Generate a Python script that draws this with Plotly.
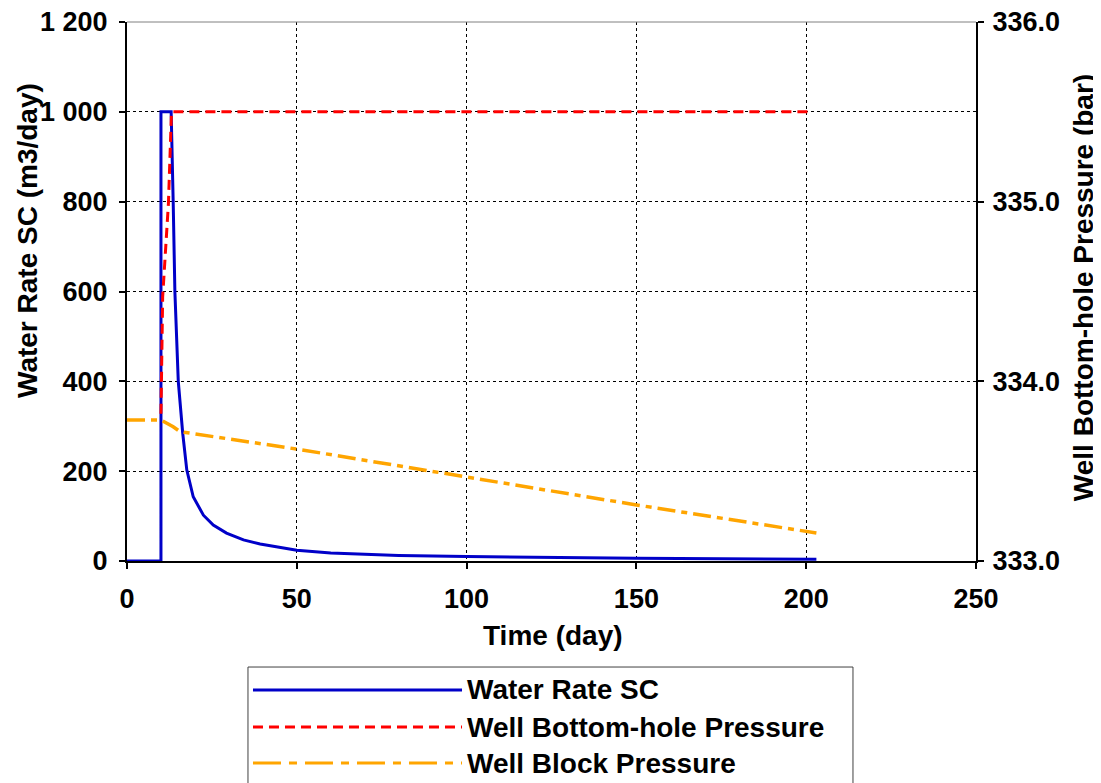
import plotly.graph_objects as go

# ---- data ----
water_time = [0, 10, 10, 13, 13.6, 14.1, 15.1, 16.4, 17.6, 19.5, 22.5, 25.4, 29.3, 34.3, 39.2, 50, 60, 69.5, 80, 100, 120, 150, 175, 203]
water_rate = [0, 0, 1000, 1000, 800, 600, 400, 285, 203, 143, 102, 80, 62, 47, 38, 24, 18, 15, 12.5, 10, 8, 6, 5, 4]

bhp_time = [10, 10.5, 12.2, 12.6, 13.1, 202]
bhp = [333.82, 334.47, 334.99, 335.29, 335.5, 335.5]

block_time = [0, 10, 13.6, 15.6, 50, 100, 150, 203]
block_p = [333.785, 333.785, 333.747, 333.72, 333.623, 333.467, 333.312, 333.156]

series_names = ["Water Rate SC", "Well Bottom-hole Pressure", "Well Block Pressure"]
x_title = "Time (day)"
y_title = "Water Rate SC (m3/day)"
y2_title = "Well Bottom-hole Pressure (bar)"

FONT = "Liberation Sans, Arial, sans-serif"
BLUE = "#0000C8"
RED = "#FF0000"
ORANGE = "#FFA500"
DASH_RED = "10px,6px"
DASH_OR = "18px,6px,6px,6px"

fig = go.Figure()
fig.add_trace(go.Scatter(x=water_time, y=water_rate, mode="lines", name=series_names[0],
                         line=dict(color=BLUE, width=3), showlegend=False))
fig.add_trace(go.Scatter(x=block_time, y=block_p, mode="lines", name=series_names[2], yaxis="y2",
                         line=dict(color=ORANGE, width=3.5, dash=DASH_OR), showlegend=False))
fig.add_trace(go.Scatter(x=bhp_time, y=bhp, mode="lines", name=series_names[1], yaxis="y2",
                         line=dict(color=RED, width=3, dash=DASH_RED), showlegend=False))

tickfont = dict(family=FONT, size=27, color="black", weight="bold")
titlefont = dict(family=FONT, size=28, color="black", weight="bold")

fig.update_layout(
    width=1101, height=783,
    margin=dict(l=119, r=133, t=14, b=230),
    paper_bgcolor="white", plot_bgcolor="white",
    separators=". ",
    xaxis=dict(range=[0, 250], dtick=50, tick0=0, showgrid=True, gridcolor="black",
               griddash="dot", gridwidth=1, showline=True, linecolor="black", linewidth=2,
               ticks="outside", ticklen=6, tickwidth=2, tickcolor="black", automargin=False,
               ticklabeloverflow="allow",
               tickfont=tickfont, ticklabelstandoff=7, zeroline=False),
    yaxis=dict(range=[0, 1200], dtick=200, tick0=0, tickformat=",d", showgrid=True,
               gridcolor="black", griddash="dot", gridwidth=1, showline=True, automargin=False,
               linecolor="black", linewidth=2, ticks="outside", ticklen=6, tickwidth=2,
               ticklabeloverflow="allow",
               tickcolor="black", tickfont=tickfont, ticklabelstandoff=6, zeroline=False),
    yaxis2=dict(range=[333, 336], dtick=1, tick0=333, tickformat=".1f", overlaying="y",
                side="right", showgrid=False, showline=True, linecolor="black", linewidth=2,
                ticks="outside", ticklen=6, tickwidth=2, tickcolor="black", automargin=False,
                ticklabeloverflow="allow",
                tickfont=tickfont, ticklabelstandoff=3, zeroline=False),
)

shapes = [
    # thin top frame line
    dict(type="line", xref="paper", yref="paper", x0=0, x1=1, y0=1, y1=1,
         line=dict(color="#808080", width=1)),
    # legend box
    dict(type="rect", xref="paper", yref="paper", x0=0.1425, x1=0.8551, y0=-0.1967, y1=-0.46,
         line=dict(color="#404040", width=1), fillcolor="white", layer="below"),
]
leg_y = [-0.2393, -0.308, -0.3748]
leg_col = [BLUE, RED, ORANGE]
leg_dash = ["solid", DASH_RED, "28px,8px,8px,8px"]
annotations = []
for i in range(3):
    shapes.append(dict(type="line", xref="paper", yref="paper", x0=0.1484, x1=0.3946,
                       y0=leg_y[i], y1=leg_y[i],
                       line=dict(color=leg_col[i], width=3, dash=leg_dash[i])))
    annotations.append(dict(text=series_names[i], xref="paper", yref="paper", x=0.398, y=leg_y[i],
                            xanchor="left", yanchor="middle", showarrow=False,
                            font=dict(family=FONT, size=28, color="black", weight="bold")))

annotations += [
    dict(text=x_title, xref="paper", yref="paper", x=0.502, y=-0.139, xanchor="center",
         yanchor="middle", showarrow=False, font=titlefont),
    dict(text=y_title, xref="paper", yref="paper", x=-0.1178, y=0.5955, xanchor="center",
         yanchor="middle", textangle=-90, showarrow=False, font=titlefont),
    dict(text=y2_title, xref="paper", yref="paper", x=1.126, y=0.508, xanchor="center",
         yanchor="middle", textangle=-90, showarrow=False, font=titlefont),
]
fig.update_layout(shapes=shapes, annotations=annotations)

fig.write_html("out.html")
